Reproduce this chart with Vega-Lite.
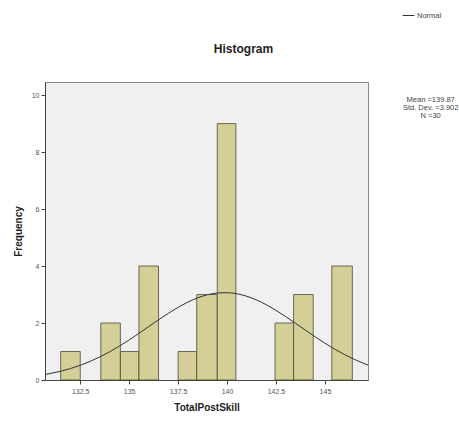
{
  "$schema": "https://vega.github.io/schema/vega-lite/v6.json",
  "autosize": "none",
  "padding": {"left": 45, "top": 82, "right": 91, "bottom": 41},
  "width": 323,
  "height": 298,
  "background": "white",
  "config": {
    "font": "Liberation Sans",
    "view": {"fill": "#F0F0F0", "stroke": "#8a8a8a", "strokeWidth": 1}
  },
  "title": {"text": "Histogram", "fontSize": 12, "fontWeight": "bold", "color": "#222", "anchor": "middle", "dx": 37, "offset": -47, "font": "Liberation Sans"},
  "datasets": {
    "bars": [
      {"start": 131.5, "end": 132.5, "count": 1},
      {"start": 133.55, "end": 134.55, "count": 2},
      {"start": 134.55, "end": 135.5, "count": 1},
      {"start": 135.5, "end": 136.5, "count": 4},
      {"start": 137.5, "end": 138.45, "count": 1},
      {"start": 138.45, "end": 139.5, "count": 3},
      {"start": 139.5, "end": 140.45, "count": 9},
      {"start": 142.45, "end": 143.4, "count": 2},
      {"start": 143.4, "end": 144.4, "count": 3},
      {"start": 145.35, "end": 146.4, "count": 4}
    ],
    "curve": [
      {"x": 130.7, "y": 0.194, "s": "Normal"},
      {"x": 131.0, "y": 0.232, "s": "Normal"},
      {"x": 131.5, "y": 0.307, "s": "Normal"},
      {"x": 132.0, "y": 0.401, "s": "Normal"},
      {"x": 132.5, "y": 0.515, "s": "Normal"},
      {"x": 133.0, "y": 0.651, "s": "Normal"},
      {"x": 133.5, "y": 0.809, "s": "Normal"},
      {"x": 134.0, "y": 0.989, "s": "Normal"},
      {"x": 134.5, "y": 1.190, "s": "Normal"},
      {"x": 135.0, "y": 1.407, "s": "Normal"},
      {"x": 135.5, "y": 1.638, "s": "Normal"},
      {"x": 136.0, "y": 1.875, "s": "Normal"},
      {"x": 136.5, "y": 2.112, "s": "Normal"},
      {"x": 137.0, "y": 2.340, "s": "Normal"},
      {"x": 137.5, "y": 2.550, "s": "Normal"},
      {"x": 138.0, "y": 2.734, "s": "Normal"},
      {"x": 138.5, "y": 2.884, "s": "Normal"},
      {"x": 139.0, "y": 2.992, "s": "Normal"},
      {"x": 139.5, "y": 3.053, "s": "Normal"},
      {"x": 140.0, "y": 3.065, "s": "Normal"},
      {"x": 140.5, "y": 3.027, "s": "Normal"},
      {"x": 141.0, "y": 2.941, "s": "Normal"},
      {"x": 141.5, "y": 2.811, "s": "Normal"},
      {"x": 142.0, "y": 2.643, "s": "Normal"},
      {"x": 142.5, "y": 2.444, "s": "Normal"},
      {"x": 143.0, "y": 2.223, "s": "Normal"},
      {"x": 143.5, "y": 1.990, "s": "Normal"},
      {"x": 144.0, "y": 1.752, "s": "Normal"},
      {"x": 144.5, "y": 1.517, "s": "Normal"},
      {"x": 145.0, "y": 1.292, "s": "Normal"},
      {"x": 145.5, "y": 1.083, "s": "Normal"},
      {"x": 146.0, "y": 0.893, "s": "Normal"},
      {"x": 146.5, "y": 0.724, "s": "Normal"},
      {"x": 147.0, "y": 0.578, "s": "Normal"},
      {"x": 147.2, "y": 0.525, "s": "Normal"}
    ],
    "stats": [
      {"x": 150.4, "y": 9.82, "label": "Mean =139.87"},
      {"x": 150.4, "y": 9.54, "label": "Std. Dev. =3.902"},
      {"x": 150.4, "y": 9.26, "label": "N =30"}
    ]
  },
  "layer": [
    {
      "data": {"name": "bars"},
      "mark": {"type": "rect", "fill": "#D4CF96", "stroke": "#4a4a3a", "strokeWidth": 0.8},
      "encoding": {
        "x": {
          "field": "start", "type": "quantitative",
          "scale": {"domain": [130.7, 147.2], "nice": false, "zero": false},
          "axis": {
            "title": "TotalPostSkill", "titleFontSize": 10, "titleFontWeight": "bold", "titleColor": "#222", "titlePadding": 8,
            "values": [132.5, 135, 137.5, 140, 142.5, 145],
            "labelExpr": "format(datum.value, '~g')",
            "labelFontSize": 7, "labelColor": "#555", "grid": false,
            "domainColor": "#444", "tickColor": "#444", "tickSize": 4, "labelPadding": 3
          }
        },
        "x2": {"field": "end"},
        "y": {
          "field": "count", "type": "quantitative",
          "scale": {"domain": [0, 10.46], "nice": false},
          "axis": {
            "title": "Frequency", "titleFontSize": 10, "titleFontWeight": "bold", "titleColor": "#222", "titlePadding": 8,
            "values": [0, 2, 4, 6, 8, 10],
            "labelFontSize": 7, "labelColor": "#555", "grid": false,
            "domainColor": "#444", "tickColor": "#444", "tickSize": 4, "labelPadding": 2
          }
        },
        "y2": {"datum": 0}
      }
    },
    {
      "data": {"name": "curve"},
      "mark": {"type": "line", "interpolate": "monotone", "strokeWidth": 1, "clip": true},
      "encoding": {
        "x": {"field": "x", "type": "quantitative"},
        "y": {"field": "y", "type": "quantitative"},
        "stroke": {
          "field": "s", "type": "nominal",
          "scale": {"range": ["#333333"]},
          "legend": {
            "title": null, "orient": "none", "legendX": 357, "legendY": -73,
            "symbolType": "stroke", "symbolSize": 140, "symbolStrokeWidth": 1,
            "labelFontSize": 7.5, "labelColor": "#444", "labelOffset": 2
          }
        }
      }
    },
    {
      "data": {"name": "stats"},
      "mark": {"type": "text", "fontSize": 7.5, "color": "#444", "align": "center", "clip": false},
      "encoding": {
        "x": {"field": "x", "type": "quantitative"},
        "y": {"field": "y", "type": "quantitative"},
        "text": {"field": "label"}
      }
    }
  ]
}
